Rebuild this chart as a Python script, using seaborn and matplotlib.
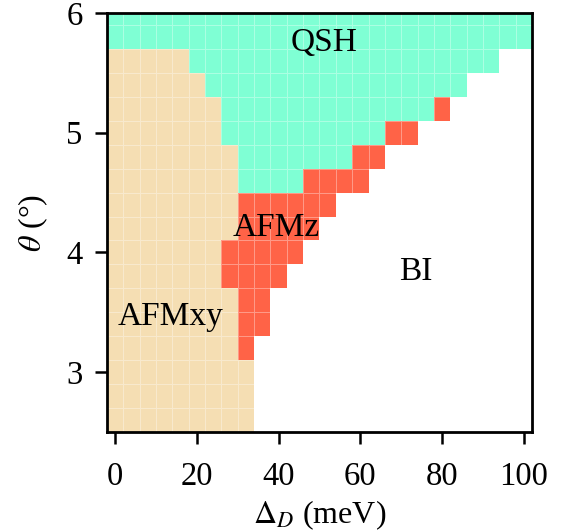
import numpy as np
import pandas as pd
import matplotlib
matplotlib.use("Agg")
import matplotlib.pyplot as plt
import seaborn as sns
from matplotlib.colors import ListedColormap

# ---- data -------------------------------------------------------------
delta_meV = [0, 4, 8, 12, 16, 20, 24, 28, 32, 36, 40, 44, 48, 52, 56, 60,
             64, 68, 72, 76, 80, 84, 88, 92, 96, 100]
theta_deg = [6.0, 5.8, 5.6, 5.4, 5.2, 5.0, 4.8, 4.6, 4.4, 4.2, 4.0, 3.8,
             3.6, 3.4, 3.2, 3.0, 2.8, 2.6]
# B = BI, X = AFMxy, Z = AFMz, Q = QSH ; one string per theta row
phase_rows = [
    "QQQQQQQQQQ" "QQQQQQQQQQ" "QQQQQQ",
    "QQQQQQQQQQ" "QQQQQQQQQQ" "QQQQQQ",
    "XXXXX" "QQQQQQQQQQ" "QQQQQQQQQ" "BB",
    "XXXXXX" "QQQQQQQQQQ" "QQQQQQ" "BBBB",
    "XXXXXXX" "QQQQQQQQQQ" "QQQ" "Z" "BBBBB",
    "XXXXXXX" "QQQQQQQQQQ" "ZZ" "BBBBBBB",
    "XXXXXXXX" "QQQQQQQ" "ZZ" "BBBBBBBBB",
    "XXXXXXXX" "QQQQ" "ZZZZ" "BBBBBBBBBB",
    "XXXXXXXX" "ZZZZZZ" "BBBBBBBBBB" "BB",
    "XXXXXXXX" "ZZZZZ" "BBBBBBBBBB" "BBB",
    "XXXXXXX" "ZZZZZ" "BBBBBBBBBB" "BBBB",
    "XXXXXXX" "ZZZZ" "BBBBBBBBBB" "BBBBB",
    "XXXXXXXX" "ZZ" "BBBBBBBBBB" "BBBBBB",
    "XXXXXXXX" "ZZ" "BBBBBBBBBB" "BBBBBB",
    "XXXXXXXX" "Z" "BBBBBBBBBB" "BBBBBBB",
    "XXXXXXXXX" "BBBBBBBBBB" "BBBBBBB",
    "XXXXXXXXX" "BBBBBBBBBB" "BBBBBBB",
    "XXXXXXXXX" "BBBBBBBBBB" "BBBBBBB",
]
phase_codes = {"B": 0, "X": 1, "Z": 2, "Q": 3}
phase_colors = ["#FFFFFF", "#F5DEB3", "#FF6347", "#7FFFD4"]
x_ticks = [0, 20, 40, 60, 80, 100]
y_ticks = [6, 5, 4, 3]
region_labels = ["QSH", "AFMz", "BI", "AFMxy"]
label_x_meV = [51.0, 39.5, 73.5, 13.5]
label_y_deg = [5.75, 4.21, 3.84, 3.46]

# ---- build table ------------------------------------------------------
grid = np.array([[phase_codes[c] for c in row] for row in phase_rows])
df = pd.DataFrame(grid, index=theta_deg, columns=delta_meV)

sns.set_style("white")
plt.rcParams["font.family"] = "serif"
plt.rcParams["font.serif"] = ["Liberation Serif", "DejaVu Serif"]
plt.rcParams["mathtext.fontset"] = "stix"
plt.rcParams["text.color"] = "black"
plt.rcParams["axes.labelcolor"] = "black"
plt.rcParams["xtick.color"] = "black"
plt.rcParams["ytick.color"] = "black"

fig = plt.figure(figsize=(5.62, 5.31), dpi=100)
ax = fig.add_axes([0.1904, 0.1864, 0.9466 - 0.1904, 0.9755 - 0.1864])

sns.heatmap(df, ax=ax, cmap=ListedColormap(phase_colors), vmin=-0.5, vmax=3.5,
            cbar=False, linewidths=0.5, linecolor=(1, 1, 1, 0.35),
            xticklabels=False, yticklabels=False)

dx = delta_meV[1] - delta_meV[0]
dy = theta_deg[0] - theta_deg[1]


def xpos(v):
    return (v - delta_meV[0]) / dx + 0.5


def ypos(t):
    return (theta_deg[0] - t) / dy + 0.5


ax.set_xlim(0, len(delta_meV))
ax.set_ylim(len(theta_deg), ypos(6.0))

ax.set_xticks([xpos(v) for v in x_ticks])
ax.set_xticklabels([str(v) for v in x_ticks])
ax.set_yticks([ypos(t) for t in y_ticks])
ax.set_yticklabels([str(t) for t in y_ticks], rotation=0)

for sp in ax.spines.values():
    sp.set_visible(True)
    sp.set_color("black")
    sp.set_linewidth(2.0)

ax.tick_params(axis="both", which="major", direction="out", length=8.5,
               width=1.8, color="black", labelcolor="black", labelsize=23.5,
               bottom=True, left=True, top=False, right=False)
ax.tick_params(axis="x", pad=12.5)
ax.tick_params(axis="y", pad=9)

ax.set_xlabel(r"$\Delta_D$ (meV)", fontsize=23, labelpad=5)
ax.set_ylabel(r"$\theta$ (°)", fontsize=23, labelpad=12)

for txt, lx, ly in zip(region_labels, label_x_meV, label_y_deg):
    ax.text(xpos(lx), ypos(ly), txt, fontsize=24, ha="center", va="center",
            color="black")

fig.savefig("out.png", dpi=100)
